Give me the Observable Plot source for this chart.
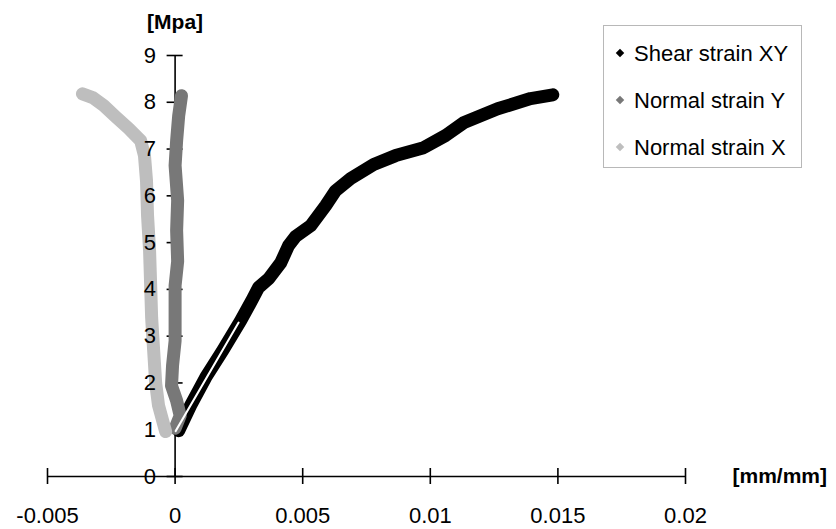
<!DOCTYPE html>
<html>
<head>
<meta charset="utf-8">
<script src="https://cdn.jsdelivr.net/npm/d3@7"></script>
<script src="https://cdn.jsdelivr.net/npm/@observablehq/plot@0.6"></script>
<style>
  html, body { margin: 0; padding: 0; background: #fff; }
  #wrap { position: relative; width: 836px; height: 529px; font-family: "Liberation Sans", Arial, sans-serif; }
  #legend { position: absolute; left: 603px; top: 25px; width: 199px; height: 143px; border: 1px solid #b8b8b8; background: #fff; box-sizing: border-box; padding-top: 4px; }
  .row { height: 47px; line-height: 47px; font-size: 22px; color: #000; white-space: nowrap; position: relative; padding-left: 30px; }
  .mk { position: absolute; left: 13px; top: 20px; width: 6px; height: 6px; transform: rotate(45deg); }
</style>
</head>
<body>
<div id="wrap"></div>
<script>
// ---- data ----
const seriesNames = ["Shear strain XY", "Normal strain Y", "Normal strain X"];
const seriesColors = ["#000000", "#787878", "#bebebe"];

const shearXY_strain = [0.00014, 0.00061, 0.0012, 0.00186, 0.00257, 0.00304, 0.00327, 0.00367, 0.00414, 0.00445, 0.00472, 0.00531, 0.0059, 0.00629, 0.00688, 0.00778, 0.00864, 0.00974, 0.0106, 0.0113, 0.01264, 0.01393, 0.0148];
const shearXY_stress = [0.98, 1.52, 2.12, 2.69, 3.33, 3.80, 4.04, 4.23, 4.57, 4.94, 5.13, 5.36, 5.79, 6.11, 6.37, 6.67, 6.86, 7.03, 7.29, 7.56, 7.86, 8.08, 8.16];

const normalY_strain = [0.0, 0.0002, 0.00006, -0.00014, -0.0001, 0.0, 0.0, 0.0, 0.0001, 0.00006, 0.0001, 0.0, 0.00006, 0.00014, 0.00025];
const normalY_stress = [1.03, 1.30, 1.62, 1.94, 2.37, 2.90, 3.55, 4.08, 4.60, 5.26, 5.90, 6.65, 7.18, 7.71, 8.14];

const normalX_strain = [-0.00037, -0.00065, -0.00076, -0.00084, -0.00092, -0.00096, -0.001, -0.00108, -0.00112, -0.0012, -0.00135, -0.00182, -0.00233, -0.0028, -0.00323, -0.00363];
const normalX_stress = [0.96, 1.52, 1.99, 2.69, 3.40, 4.12, 4.83, 5.58, 6.32, 6.86, 7.18, 7.44, 7.69, 7.93, 8.10, 8.18];

// thin white gap visible inside the shear band
const gap_strain = [0.00002, 0.00249];
const gap_stress = [0.97, 3.29];

const xTicks = [-0.005, 0, 0.005, 0.01, 0.015, 0.02];
const xTickLabels = ["-0.005", "0", "0.005", "0.01", "0.015", "0.02"];
const yTicks = [0, 1, 2, 3, 4, 5, 6, 7, 8, 9];
const yTickLabels = ["0", "1", "2", "3", "4", "5", "6", "7", "8", "9"];
const yTitle = "[Mpa]";
const xTitle = "[mm/mm]";

// ---- build tables ----
const toRows = (xs, ys) => xs.map((x, i) => ({x, y: ys[i]}));
const shear = toRows(shearXY_strain, shearXY_stress);
const normY = toRows(normalY_strain, normalY_stress);
const normX = toRows(normalX_strain, normalX_stress);
const gap = toRows(gap_strain, gap_stress);

const FONT = "Liberation Sans, Arial, sans-serif";
const xMin = xTicks[0], xMax = xTicks[xTicks.length - 1];
const yMin = yTicks[0], yMax = yTicks[yTicks.length - 1];

const lineOpts = {x: "x", y: "y", strokeWidth: 13, strokeLinejoin: "round", strokeLinecap: "round"};

const chart = Plot.plot({
  width: 836,
  height: 529,
  marginLeft: 47,
  marginRight: 151,
  marginTop: 55,
  marginBottom: 53,
  x: {domain: [xMin, xMax]},
  y: {domain: [yMin, yMax]},
  axis: null,
  style: {fontFamily: FONT, background: "#fff", overflow: "visible"},
  marks: [
    // axes
    Plot.ruleY([yMin], {x1: () => xMin, x2: () => xMax, stroke: "#000", strokeWidth: 1.6}),
    Plot.ruleX([0], {y1: () => yMin, y2: () => yMax, stroke: "#000", strokeWidth: 1.6}),
    Plot.ruleX(xTicks, {x: d => d, y1: () => yMin, y2: () => yMin, insetTop: -8, insetBottom: -8, stroke: "#000", strokeWidth: 1.6}),
    Plot.ruleY(yTicks, {y: d => d, x1: () => 0, x2: () => 0, insetLeft: -8, insetRight: -8, stroke: "#000", strokeWidth: 1.6}),
    // data
    Plot.line(shear, {...lineOpts, stroke: seriesColors[0]}),
    Plot.line(normY, {...lineOpts, stroke: seriesColors[1]}),
    Plot.line(normX, {...lineOpts, stroke: seriesColors[2]}),
    Plot.line(gap, {x: "x", y: "y", stroke: "#fff", strokeWidth: 2}),
    // tick labels
    Plot.text(xTicks, {x: d => d, y: () => yMin, text: (d, i) => xTickLabels[i], dy: 39, fontSize: 22, fill: "#000"}),
    Plot.text(yTicks, {x: () => 0, y: d => d, text: (d, i) => yTickLabels[i], dx: -19, textAnchor: "end", fontSize: 22, fill: "#000"}),
    // titles
    Plot.text([yTitle], {x: () => 0, y: () => yMax, text: d => d, dy: -33, fontSize: 21, fontWeight: "bold", fill: "#000"}),
    Plot.text([xTitle], {x: () => xMax, y: () => yMin, text: d => d, dx: 47, textAnchor: "start", fontSize: 21, fontWeight: "bold", fill: "#000"})
  ]
});

const wrap = document.getElementById("wrap");
wrap.appendChild(chart);

const legend = document.createElement("div");
legend.id = "legend";
seriesNames.forEach((name, i) => {
  const row = document.createElement("div");
  row.className = "row";
  const mk = document.createElement("span");
  mk.className = "mk";
  mk.style.background = seriesColors[i];
  row.appendChild(mk);
  row.appendChild(document.createTextNode(name));
  legend.appendChild(row);
});
wrap.appendChild(legend);
</script>
</body>
</html>
